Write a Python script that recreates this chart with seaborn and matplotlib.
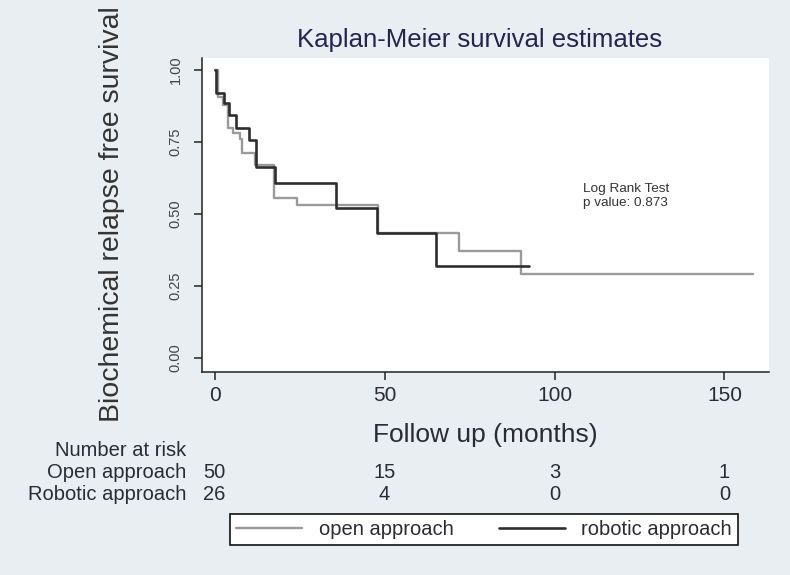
"""
Kaplan-Meier curves: open vs robotic approach, with risk table
"""

import pandas as pd
import matplotlib
import matplotlib.pyplot as plt
import matplotlib.transforms as mtransforms
from matplotlib.lines import Line2D
import seaborn as sns

matplotlib.use("Agg")

# ============================================================
# DATA
# ============================================================

open_time = [0, 1.0, 2.4, 3.9, 5.4, 7.4, 8.2, 12.0, 17.6, 24.2, 48.1, 71.8, 90.1, 158.4]
open_surv = [1.0, 0.907, 0.878, 0.80, 0.782, 0.760, 0.713, 0.670, 0.555, 0.530, 0.435, 0.370, 0.290, 0.290]

robot_time = [0, 0.5, 2.9, 4.1, 6.4, 10.0, 12.2, 17.8, 35.7, 47.9, 65.0, 92.6]
robot_surv = [1.0, 0.920, 0.885, 0.845, 0.800, 0.757, 0.664, 0.607, 0.520, 0.433, 0.320, 0.320]

risk_times = [0, 50, 100, 150]
risk_open = [50, 15, 3, 1]
risk_robot = [26, 4, 0, 0]

x_ticks = [0, 50, 100, 150]
y_ticks = [0.00, 0.25, 0.50, 0.75, 1.00]

groups = ["open approach", "robotic approach"]
risk_labels = ["Open approach", "Robotic approach"]

# ============================================================
# STYLE
# ============================================================

BG = "#E8EEF2"
TXT = "#2b2b33"
TITLE = "#24244f"
COL_OPEN = "#9a9a9a"
COL_ROBOT = "#2e2e2e"

sns.set_style("ticks")
plt.rcParams.update({
    "font.family": ["Liberation Sans", "DejaVu Sans"],
    "figure.facecolor": BG,
    "axes.facecolor": "white",
    "axes.edgecolor": "#222222",
    "axes.linewidth": 1.1,
    "xtick.color": "#222222",
    "ytick.color": "#222222",
})

df = pd.concat([
    pd.DataFrame({"time": open_time, "surv": open_surv, "group": groups[0]}),
    pd.DataFrame({"time": robot_time, "surv": robot_surv, "group": groups[1]}),
], ignore_index=True)

fig = plt.figure(figsize=(7.9, 5.75), dpi=100)
ax = fig.add_axes([202 / 790, 1 - 372 / 575, 567 / 790, 314 / 575])

styles = {groups[0]: (COL_OPEN, 1.7), groups[1]: (COL_ROBOT, 1.9)}
for grp in groups:
    color, lw = styles[grp]
    sns.lineplot(
        data=df[df["group"] == grp], x="time", y="surv",
        color=color, linewidth=lw, drawstyle="steps-post",
        estimator=None, sort=False, ax=ax,
    )

ax.set_xlim(-3.7, 163.1)
ax.set_ylim(-0.049, 1.042)
ax.set_xticks(x_ticks)
ax.set_yticks(y_ticks)
ax.set_yticklabels([f"{v:.2f}" for v in y_ticks])
ax.tick_params(axis="x", length=6, width=1.1, labelsize=15, pad=4, labelcolor=TXT)
ax.tick_params(axis="y", length=6, width=1.1, labelsize=10.5, pad=8,
               labelrotation=90, labelcolor="#444444")
for lab in ax.get_yticklabels():
    lab.set_va("center")
sns.despine(ax=ax)

ax.set_xlabel("Follow up (months)", fontsize=19, color=TXT)
ax.xaxis.label.set_va("center")
ax.xaxis.set_label_coords(0.5, (372 - 435) / 314)
ax.set_ylabel("")

ax.set_title("Kaplan-Meier survival estimates", fontsize=18.5, color=TITLE, pad=8, x=0.49)

fig.text(112 / 790, 1 - 214 / 575, "Biochemical relapse free survival",
         rotation=90, ha="center", va="center", fontsize=20.5, color="#333333")

# Log rank annotation
ax.text(0.672, (372 - 183) / 314, "Log Rank Test\np value: 0.873", transform=ax.transAxes,
        ha="left", va="top", fontsize=9.7, color="#333333", linespacing=1.25)

# ============================================================
# RISK TABLE
# ============================================================

trans = mtransforms.blended_transform_factory(ax.transData, fig.transFigure)
fig.text(186 / 790, 1 - 451 / 575, "Number at risk", ha="right", va="center",
         fontsize=14.5, color=TXT)
for row, (label, counts) in enumerate(zip(risk_labels, [risk_open, risk_robot])):
    y = 1 - (473 + 22 * row) / 575
    fig.text(186 / 790, y, label, ha="right", va="center", fontsize=14.5, color=TXT)
    for t, n in zip(risk_times, counts):
        ax.text(t, y, str(n), transform=trans, ha="center", va="center",
                fontsize=14.5, color=TXT, clip_on=False)

# ============================================================
# LEGEND
# ============================================================

handles = [Line2D([], [], color=COL_OPEN, linewidth=1.7),
           Line2D([], [], color=COL_ROBOT, linewidth=1.9)]
leg = fig.legend(
    handles, groups, ncol=2, loc="center",
    bbox_to_anchor=(230 / 790, 1 - 547 / 575, 508 / 790, 35 / 575),
    mode="expand", fontsize=14.5, frameon=True, fancybox=False,
    handlelength=3.3, handletextpad=0.8, borderpad=0.3,
    borderaxespad=0, edgecolor="#111111", facecolor="white",
)
leg.get_frame().set_linewidth(1.2)
leg.get_frame().set_alpha(1)
for txt in leg.get_texts():
    txt.set_color(TXT)

fig.savefig("out.png", dpi=100, facecolor=BG)
